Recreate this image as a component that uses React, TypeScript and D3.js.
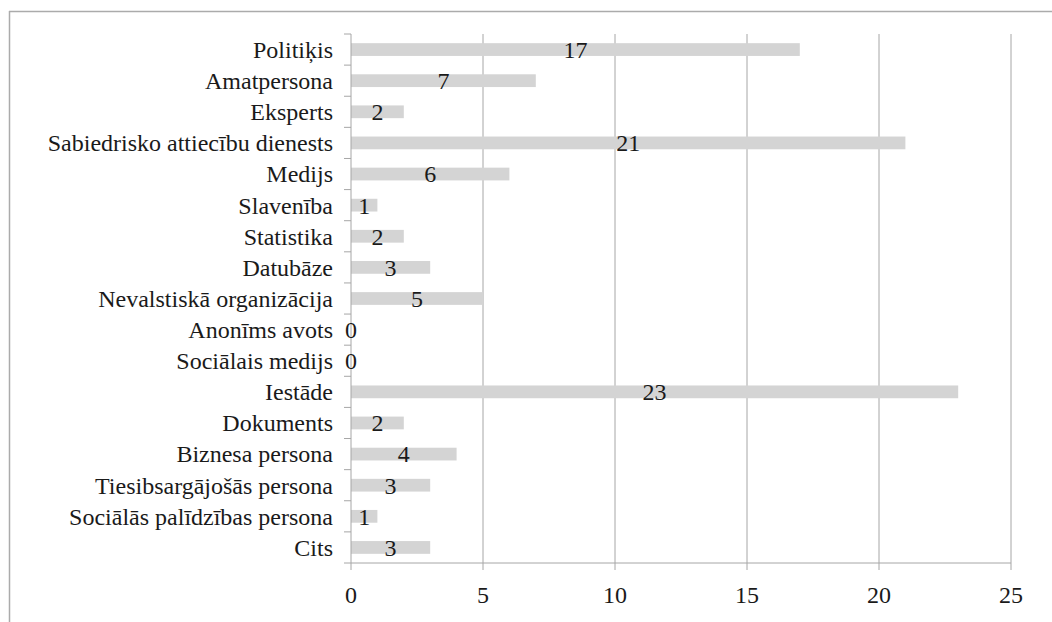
import { useMemo } from 'react'
import { scaleLinear, scaleBand, range } from 'd3'

// categories, top to bottom as in the source chart
const CATEGORIES = [
  'Politiķis',
  'Amatpersona',
  'Eksperts',
  'Sabiedrisko attiecību dienests',
  'Medijs',
  'Slavenība',
  'Statistika',
  'Datubāze',
  'Nevalstiskā organizācija',
  'Anonīms avots',
  'Sociālais medijs',
  'Iestāde',
  'Dokuments',
  'Biznesa persona',
  'Tiesibsargājošās persona',
  'Sociālās palīdzības persona',
  'Cits',
]
const COUNTS = [17, 7, 2, 21, 6, 1, 2, 3, 5, 0, 0, 23, 2, 4, 3, 1, 3]
const X_TICKS = [0, 5, 10, 15, 20, 25]

const W = 1052
const H = 622
const LEFT = 351
const RIGHT = 1011
const TOP = 34
const BOTTOM = 563
const FONT = "'Liberation Serif', 'Times New Roman', 'DejaVu Serif', serif"
const GRID = '#a6a6a6'
const INK = '#1a1a1a'

export default function App() {
  const { x, y } = useMemo(() => {
    return {
      x: scaleLinear().domain([0, 25]).range([LEFT, RIGHT]),
      y: scaleBand<string>().domain(CATEGORIES).range([TOP, BOTTOM]).padding(0),
    }
  }, [])

  const bw = y.bandwidth()
  const barH = bw * 0.41

  return (
    <svg
      width={W}
      height={H}
      viewBox={`0 0 ${W} ${H}`}
      style={{ position: 'absolute', left: 0, top: 0, background: '#fff', fontFamily: FONT }}
    >
      {/* outer frame (continues past right and bottom edges) */}
      <line x1={9} y1={11.5} x2={W} y2={11.5} stroke="#ababab" strokeWidth={1.5} />
      <line x1={9.5} y1={11} x2={9.5} y2={H} stroke="#ababab" strokeWidth={1.5} />

      {/* vertical gridlines */}
      {X_TICKS.filter((t) => t > 0).map((t) => (
        <line key={t} x1={x(t)} x2={x(t)} y1={TOP} y2={BOTTOM} stroke={GRID} strokeWidth={1} />
      ))}

      {/* bars */}
      {CATEGORIES.map((c, i) => (
        <rect
          key={c}
          x={x(0)}
          y={(y(c) ?? 0) + (bw - barH) / 2}
          width={x(COUNTS[i]) - x(0)}
          height={barH}
          fill="#d4d4d4"
        />
      ))}

      {/* category axis */}
      <line x1={LEFT} x2={LEFT} y1={TOP} y2={BOTTOM} stroke={GRID} strokeWidth={1} />
      {range(CATEGORIES.length + 1).map((i) => {
        const yy = TOP + i * bw
        return <line key={i} x1={LEFT - 7} x2={LEFT} y1={yy} y2={yy} stroke={GRID} strokeWidth={1} />
      })}
      {CATEGORIES.map((c) => (
        <text
          key={c}
          x={LEFT - 18}
          y={(y(c) ?? 0) + bw / 2}
          dy="0.35em"
          textAnchor="end"
          fontSize={24}
          fill={INK}
        >
          {c}
        </text>
      ))}

      {/* value axis */}
      <line x1={LEFT} x2={RIGHT} y1={BOTTOM} y2={BOTTOM} stroke={GRID} strokeWidth={1} />
      {X_TICKS.map((t) => (
        <g key={t}>
          <line x1={x(t)} x2={x(t)} y1={BOTTOM} y2={BOTTOM + 7} stroke={GRID} strokeWidth={1} />
          <text x={x(t)} y={603} textAnchor="middle" fontSize={24} fill={INK}>
            {t}
          </text>
        </g>
      ))}

      {/* value labels, centred on each bar */}
      {CATEGORIES.map((c, i) => (
        <text
          key={c}
          x={(x(0) + x(COUNTS[i])) / 2}
          y={(y(c) ?? 0) + bw / 2}
          dy="0.35em"
          textAnchor="middle"
          fontSize={24}
          fill={INK}
        >
          {COUNTS[i]}
        </text>
      ))}
    </svg>
  )
}
